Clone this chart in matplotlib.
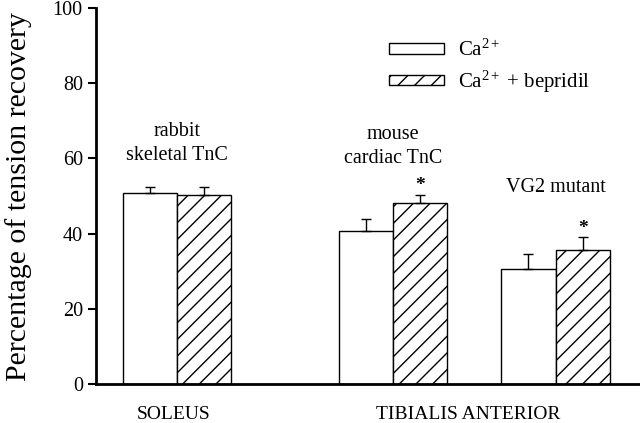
import numpy as np
import matplotlib.pyplot as plt

plt.rcParams['font.family'] = ['Liberation Serif', 'DejaVu Serif']
plt.rcParams['mathtext.fontset'] = 'custom'
plt.rcParams['mathtext.rm'] = 'Liberation Serif'
plt.rcParams['mathtext.it'] = 'Liberation Serif:italic'
plt.rcParams['hatch.linewidth'] = 1.0

groups = ['rabbit\nskeletal TnC', 'mouse\ncardiac TnC', 'VG2 mutant']
ca = np.array([50.7, 40.7, 30.5])
ca_err = np.array([1.6, 3.1, 4.1])
bep = np.array([50.3, 48.1, 35.7])
bep_err = np.array([2.2, 2.3, 3.3])
significant = [False, True, True]
muscles = ['SOLEUS', 'TIBIALIS ANTERIOR']

fig = plt.figure(figsize=(6.4, 4.23), dpi=100)
ax = fig.add_axes([0.15, 0.092, 0.85, 0.889])

centers = np.array([1.49, 5.46, 8.45])
w = 1.0

ax.bar(centers - w / 2, ca, w, color='white', edgecolor='black', linewidth=1,
       yerr=[np.zeros(3), ca_err], capsize=3.5,
       error_kw=dict(elinewidth=1, capthick=1, ecolor='black'),
       label=r'Ca$^{\mathrm{2+}}$')
ax.bar(centers + w / 2, bep, w, color='white', edgecolor='black', linewidth=1,
       hatch='//', yerr=[np.zeros(3), bep_err], capsize=3.5,
       error_kw=dict(elinewidth=1, capthick=1, ecolor='black'),
       label=r'Ca$^{\mathrm{2+}}$ + bepridil')

for i in range(3):
    if significant[i]:
        ax.text(centers[i] + w / 2, bep[i] + bep_err[i] + 2.5, '*',
                ha='center', va='center', fontsize=14, fontweight='bold')

# group labels above bars, one text per line (baselines)
label_base = [59.6, 58.8, 51.0]
for i in range(3):
    lines = groups[i].split('\n')
    for j, line in enumerate(reversed(lines)):
        ax.text(centers[i], label_base[i] + j * 6.4, line, ha='center',
                va='baseline', fontsize=14.5)

# muscle labels under the axis
ax.text(1.42, -9.2, muscles[0], ha='center', va='baseline', fontsize=14)
ax.text(6.85, -9.2, muscles[1], ha='center', va='baseline', fontsize=14)

ax.set_xlim(0, 10)
ax.set_ylim(0, 100)
ax.set_yticks([0, 20, 40, 60, 80, 100])
ax.set_xticks([])
ax.tick_params(axis='y', labelsize=14.5, width=1.5, length=6)
ax.set_ylabel('Percentage of tension recovery', fontsize=21.5, labelpad=15)

ax.spines['top'].set_visible(False)
ax.spines['right'].set_visible(False)
ax.spines['left'].set_linewidth(2)
ax.spines['bottom'].set_linewidth(2)

ax.legend(loc='upper left', bbox_to_anchor=(0.505, 0.965), frameon=False,
          fontsize=15, handlelength=2.6, handleheight=0.4,
          handletextpad=0.7, labelspacing=0.35)

fig.savefig('out.png', dpi=100)
